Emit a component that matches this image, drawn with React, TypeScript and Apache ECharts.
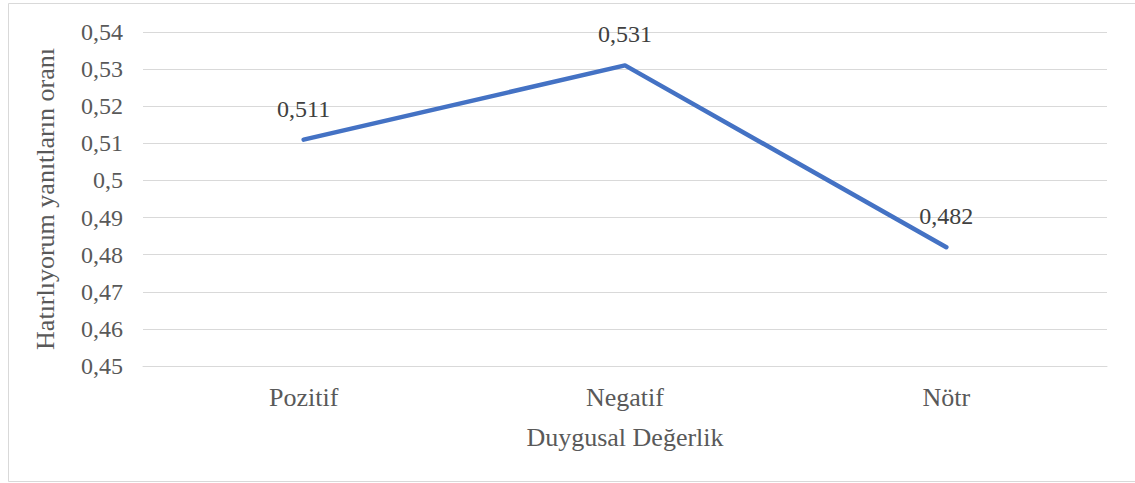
import React, { useEffect, useRef } from "react";
import * as echarts from "echarts";

const categories = ["Pozitif", "Negatif", "Nötr"];
const values = [0.511, 0.531, 0.482];
const yMin = 0.45;
const yMax = 0.54;
const yStep = 0.01;
const xAxisName = "Duygusal Değerlik";
const yAxisName = "Hatırlıyorum yanıtların oranı";

const FONT = "Liberation Serif";
const TEXT = "#595959";
const GRID = "#d9d9d9";

const fmt = (v: number) => String(parseFloat(v.toFixed(3))).replace(".", ",");

export default function App() {
  const ref = useRef<HTMLDivElement>(null);
  useEffect(() => {
    if (!ref.current) return;
    const chart = echarts.init(ref.current, undefined, { renderer: "svg" });
    chart.setOption({
      animation: false,
      backgroundColor: "#ffffff",
      textStyle: { fontFamily: FONT },
      graphic: [
        {
          type: "rect",
          shape: { x: 8.5, y: 3.5, width: 1130, height: 478 },
          style: { fill: "none", stroke: GRID, lineWidth: 1 },
          silent: true,
        },
      ],
      grid: { left: 143, right: 28, top: 32, bottom: 117 },
      xAxis: {
        type: "category",
        data: categories,
        boundaryGap: true,
        name: xAxisName,
        nameLocation: "middle",
        nameGap: 58,
        nameTextStyle: { color: TEXT, fontSize: 26, fontFamily: FONT },
        axisLine: { show: true, lineStyle: { color: GRID, width: 1 } },
        axisTick: { show: false },
        axisLabel: { color: TEXT, fontSize: 26, fontFamily: FONT, margin: 18 },
      },
      yAxis: {
        type: "value",
        min: yMin,
        max: yMax,
        interval: yStep,
        name: yAxisName,
        nameLocation: "middle",
        nameGap: 85,
        nameTextStyle: { color: TEXT, fontSize: 26, fontFamily: FONT },
        axisLine: { show: false },
        axisTick: { show: false },
        splitLine: { lineStyle: { color: GRID, width: 1 } },
        axisLabel: {
          color: TEXT,
          fontSize: 24,
          fontFamily: FONT,
          margin: 20,
          formatter: (v: number) => fmt(Number(v.toFixed(2))),
        },
      },
      series: [
        {
          type: "line",
          data: values,
          symbol: "circle",
          symbolSize: 0.1,
          showSymbol: true,
          itemStyle: { color: "#4472C4" },
          lineStyle: { color: "#4472C4", width: 4.5, cap: "round", join: "round" },
          label: {
            show: true,
            position: "top",
            distance: 19,
            color: "#404040",
            fontSize: 24,
            fontFamily: FONT,
            formatter: (p: any) => fmt(p.value),
          },
        },
      ],
    });
    return () => chart.dispose();
  }, []);
  return (
    <div
      ref={ref}
      style={{ position: "absolute", left: 0, top: 0, width: 1135, height: 483 }}
    />
  );
}
